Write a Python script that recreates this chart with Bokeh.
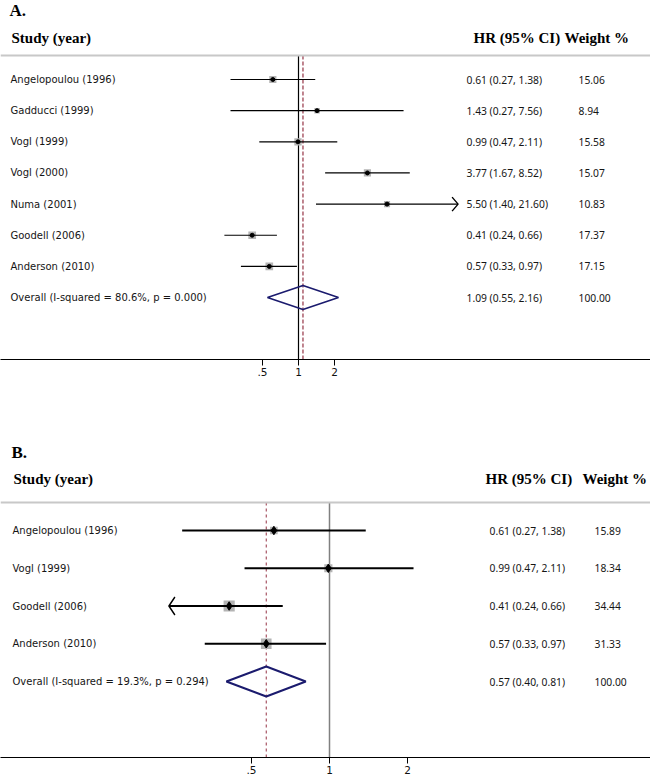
import math
from bokeh.plotting import figure
from bokeh.models import Range1d, FixedTicker, ColumnDataSource, LabelSet, Label, Span
from bokeh.layouts import column
from bokeh.embed import file_html
from bokeh.resources import INLINE
from bokeh.core.properties import value

# ---------------- data ----------------
a_studies = ["Angelopoulou (1996)", "Gadducci (1999)", "Vogl (1999)", "Vogl (2000)",
             "Numa (2001)", "Goodell (2006)", "Anderson (2010)"]
a_hr = [0.61, 1.43, 0.99, 3.77, 5.50, 0.41, 0.57]
a_lo = [0.27, 0.27, 0.47, 1.67, 1.40, 0.24, 0.33]
a_hi = [1.38, 7.56, 2.11, 8.52, 21.60, 0.66, 0.97]
a_weight = [15.06, 8.94, 15.58, 15.07, 10.83, 17.37, 17.15]
a_overall_hr = 1.09
a_overall_lo = 0.55
a_overall_hi = 2.16
a_overall_label = "Overall  (I-squared = 80.6%, p = 0.000)"

b_studies = ["Angelopoulou (1996)", "Vogl (1999)", "Goodell (2006)", "Anderson (2010)"]
b_hr = [0.61, 0.99, 0.41, 0.57]
b_lo = [0.27, 0.47, 0.24, 0.33]
b_hi = [1.38, 2.11, 0.66, 0.97]
b_weight = [15.89, 18.34, 34.44, 31.33]
b_overall_hr = 0.57
b_overall_lo = 0.40
b_overall_hi = 0.81
b_overall_label = "Overall  (I-squared = 19.3%, p = 0.294)"

tick_values = [0.5, 1.0, 2.0]
tick_labels = [".5", "1", "2"]
null_value = 1.0

# ---------------- styling / layout ----------------
W = 650
NAVY = "#1b1b6e"
MAROON = "#953344"
GRAY_BOX = "#b4b4b4"
SEP = "#c8c8c8"

cfg_a = dict(top=0, frame_h=359, bottom=30, row0=79, row_unit=31.15, one_px=298, ppd=36,
             label_x=10, hr_x=466, w_x=578, hdr_hr_x=473, hdr_w_x=564,
             letter_y=10, header_y=37, sep_y=55, ci_w=1.2, dia_h=12, sq_k=1.85,
             dot_marker="circle", dot_size=4, null_color="black", null_w=1.2,
             dash="4 2", dash_w=1.2, clip=(0.2, 16.0), head_len=6, head_half=7,
             dia_w=1.6, letter="A.")
cfg_b = dict(top=389, frame_h=368, bottom=22, row0=530, row_unit=37.75, one_px=329, ppd=78,
             label_x=12, hr_x=489, w_x=594, hdr_hr_x=485, hdr_w_x=582,
             letter_y=452, header_y=478, sep_y=502, ci_w=2.1, dia_h=15, sq_k=1.9,
             dot_marker="diamond", dot_size=8.5, null_color="#808080", null_w=1.5,
             dash="3 3", dash_w=1.0, clip=(0.25, 4.0), head_len=6, head_half=9,
             dia_w=2.0, letter="B.")


def build(cfg, studies, hr, lo, hi, weight, ov_hr, ov_lo, ov_hi, ov_label):
    top, fh, r0, ru = cfg["top"], cfg["frame_h"], cfg["row0"], cfg["row_unit"]

    def row_of(page_y):
        return (r0 - page_y) / ru

    y_top = row_of(top)
    y_bot = row_of(top + fh)
    ppd, fx1 = cfg["ppd"], cfg["one_px"]
    x_lo = 2 ** (-fx1 / ppd)
    x_hi = 2 ** ((W - fx1) / ppd)

    p = figure(frame_width=W, frame_height=fh, x_axis_type="log",
               x_range=Range1d(x_lo, x_hi), y_range=Range1d(y_bot, y_top),
               y_axis_location=None, output_backend="svg", toolbar_location=None,
               min_border_left=0, min_border_right=0, min_border_top=0,
               min_border_bottom=cfg["bottom"], title=None)
    p.xgrid.visible = False
    p.ygrid.visible = False
    p.outline_line_color = None
    p.background_fill_color = "white"
    p.border_fill_color = "white"

    ax = p.xaxis[0]
    ax.ticker = FixedTicker(ticks=tick_values, minor_ticks=[])
    ax.major_label_overrides = dict(zip(tick_values, tick_labels))
    ax.major_tick_out = 6
    ax.major_tick_in = 0
    ax.minor_tick_line_color = None
    ax.major_label_standoff = 2
    ax.major_label_text_font = "DejaVu Sans"
    ax.major_label_text_font_size = "10.5px"
    ax.major_label_text_color = "#111111"
    ax.axis_line_color = "black"
    ax.axis_line_width = 1.2
    ax.major_tick_line_color = "black"

    n = len(studies)
    rows = [-i for i in range(n)]
    ov_row = -n

    sep_row = row_of(cfg["sep_y"])
    p.add_layout(Span(location=sep_row, dimension="width", line_color=SEP, line_width=2))

    # null line and overall dashed line
    p.segment(x0=[null_value], y0=[sep_row], x1=[null_value], y1=[y_bot],
              line_color=cfg["null_color"], line_width=cfg["null_w"])
    p.segment(x0=[ov_hr], y0=[sep_row], x1=[ov_hr], y1=[y_bot],
              line_color=MAROON, line_width=cfg["dash_w"], line_dash=cfg["dash"])

    # weight boxes
    p.scatter(x=hr, y=rows, size=[cfg["sq_k"] * math.sqrt(w) for w in weight],
              marker="square", fill_color=GRAY_BOX, line_color=None)
    # CIs
    p.segment(x0=lo, y0=rows, x1=hi, y1=rows, line_color="black", line_width=cfg["ci_w"])
    # arrowheads for CIs outside the display limits
    hx, hy = [], []
    f = 2 ** (cfg["head_len"] / ppd)
    hh = cfg["head_half"] / ru
    for r, l, u in zip(rows, lo, hi):
        if l < cfg["clip"][0]:
            hx.append([l * f, l, l * f])
            hy.append([r + hh, r, r - hh])
        if u > cfg["clip"][1]:
            hx.append([u / f, u, u / f])
            hy.append([r + hh, r, r - hh])
    if hx:
        p.multi_line(xs=hx, ys=hy, line_color="black", line_width=1.4)
    # point estimates
    p.scatter(x=hr, y=rows, marker=cfg["dot_marker"], size=cfg["dot_size"],
              fill_color="black", line_color="black")

    # overall diamond
    dh = cfg["dia_h"] / ru
    p.patch(x=[ov_lo, ov_hr, ov_hi, ov_hr, ov_lo],
            y=[ov_row, ov_row + dh, ov_row, ov_row - dh, ov_row],
            fill_color=None, line_color=NAVY, line_width=cfg["dia_w"])

    # text columns
    src = ColumnDataSource(dict(
        y=rows + [ov_row],
        label=studies + [ov_label],
        hrtxt=[f"{h:.2f} ({a:.2f}, {b:.2f})" for h, a, b in zip(hr, lo, hi)]
              + [f"{ov_hr:.2f} ({ov_lo:.2f}, {ov_hi:.2f})"],
        wtxt=[f"{w:.2f}" for w in weight] + [f"{100:.2f}"],
    ))
    common = dict(y="y", x_units="screen", source=src, text_baseline="middle",
                  text_color="#151515")
    p.add_layout(LabelSet(x=cfg["label_x"], text="label", text_font=value("DejaVu Sans"),
                          text_font_size=value("10px"), **common))
    p.add_layout(LabelSet(x=cfg["hr_x"], text="hrtxt", text_font=value("Noto Sans"),
                          text_font_size=value("10.3px"), **common))
    p.add_layout(LabelSet(x=cfg["w_x"], text="wtxt", text_font=value("Noto Sans"),
                          text_font_size=value("10.3px"), **common))

    # headers
    hdr = dict(x_units="screen", text_font="Liberation Serif", text_font_style="bold",
               text_baseline="middle", text_color="black")
    p.add_layout(Label(x=cfg["label_x"] - 1, y=row_of(cfg["letter_y"]), text=cfg["letter"],
                       text_font_size="17px", **hdr))
    p.add_layout(Label(x=cfg["label_x"] + 1, y=row_of(cfg["header_y"]), text="Study (year)",
                       text_font_size="15px", **hdr))
    p.add_layout(Label(x=cfg["hdr_hr_x"], y=row_of(cfg["header_y"]), text="HR (95% CI)",
                       text_font_size="15px", **hdr))
    p.add_layout(Label(x=cfg["hdr_w_x"], y=row_of(cfg["header_y"]), text="Weight %",
                       text_font_size="15px", **hdr))
    return p


pA = build(cfg_a, a_studies, a_hr, a_lo, a_hi, a_weight,
           a_overall_hr, a_overall_lo, a_overall_hi, a_overall_label)
pB = build(cfg_b, b_studies, b_hr, b_lo, b_hi, b_weight,
           b_overall_hr, b_overall_lo, b_overall_hi, b_overall_label)

layout = column(pA, pB, spacing=0)
open("out.html", "w").write(file_html(layout, INLINE))
